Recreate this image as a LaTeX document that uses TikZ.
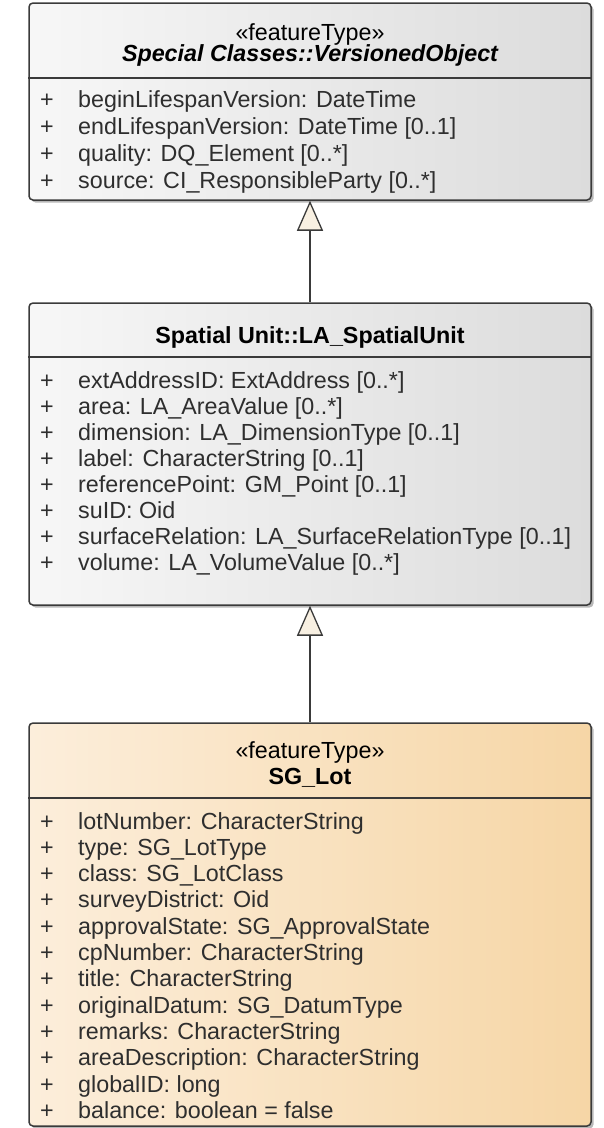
\documentclass[tikz,border=0pt]{standalone}
\usepackage{fontspec}
\setmainfont{Liberation Sans}
\usetikzlibrary{arrows.meta,positioning,shadows}
\definecolor{frame}   {HTML}{3A3A3A}
\definecolor{grayL}   {HTML}{F7F7F7}
\definecolor{grayR}   {HTML}{DCDCDC}
\definecolor{lotL}    {HTML}{FCEEDB}
\definecolor{lotR}    {HTML}{F6D6A6}
\definecolor{tipfill} {HTML}{F8F0E2}
\definecolor{attrtext}{HTML}{2E2E2E}
\newcommand{\umlfont}{\fontsize{23.3}{27}\selectfont}

\tikzset{
  classbox/.style={draw=frame,line width=1.5pt,rounded corners=4pt,
    minimum width=562pt,inner sep=0pt,
    drop shadow={shadow xshift=2.5pt,shadow yshift=-2.5pt,opacity=0.4,fill=black!70}},
  graybox/.style={classbox,left color=grayL,right color=grayR},
  lotbox/.style={classbox,left color=lotL,right color=lotR},
  stereo/.style={anchor=base,font=\umlfont,inner sep=0pt},
  cname/.style={anchor=base,font=\umlfont\bfseries,inner sep=0pt},
  plus/.style={anchor=base,font=\umlfont,text=attrtext,inner sep=0pt},
  attr/.style={anchor=base west,font=\umlfont,text=attrtext,inner sep=0pt},
  divider/.style={frame,line width=1.5pt},
  inherit/.style={frame,line width=1.3pt,
    -{Triangle[length=30pt,width=26pt,fill=tipfill]}},
}

\begin{document}
\begin{tikzpicture}[x=1pt,y=1pt]
    \useasboundingbox (0,0) rectangle (603,-1128);

    % class boxes
    \node[graybox,minimum height=197pt] (vobj) at (310,-101.5) {};
    \node[graybox,minimum height=302pt] (lasp) at (310,-454) {};
    \node[lotbox,minimum height=403pt] (sglot) at (310,-924.5) {};

    % compartment lines
    \draw[divider] (vobj.west |- 0,-78) -- (vobj.east |- 0,-78);
    \draw[divider] (lasp.west |- 0,-357) -- (lasp.east |- 0,-357);
    \draw[divider] (sglot.west |- 0,-798) -- (sglot.east |- 0,-798);

    % VersionedObject
    \node[stereo] (vobj-st) at (310,-40) {«featureType»};
    \node[cname,font=\umlfont\bfseries\itshape] (vobj-nm) at (310,-61) {Special Classes::VersionedObject};
    \foreach \a [count=\i from 0] in {
      {beginLifespanVersion: DateTime},
      {endLifespanVersion: DateTime [0..1]},
      {quality: DQ\_Element [0..*]},
      {source: CI\_ResponsibleParty [0..*]}} {
      \node[plus] (vobj-p\i) at (47,-107-27*\i) {+};
      \node[attr] (vobj-a\i) at (78,-107-27*\i) {\a};
    }

    % LA_SpatialUnit
    \node[cname] (lasp-nm) at (310,-343) {Spatial Unit::LA\_SpatialUnit};
    \foreach \a [count=\i from 0] in {
      {extAddressID: ExtAddress [0..*]},
      {area: LA\_AreaValue [0..*]},
      {dimension: LA\_DimensionType [0..1]},
      {label: CharacterString [0..1]},
      {referencePoint: GM\_Point [0..1]},
      {suID: Oid},
      {surfaceRelation: LA\_SurfaceRelationType [0..1]},
      {volume: LA\_VolumeValue [0..*]}} {
      \node[plus] (lasp-p\i) at (47,-388-26*\i) {+};
      \node[attr] (lasp-a\i) at (78,-388-26*\i) {\a};
    }

    % SG_Lot
    \node[stereo] (sglot-st) at (310,-758) {«featureType»};
    \node[cname] (sglot-nm) at (310,-784) {SG\_Lot};
    \foreach \a [count=\i from 0] in {
      {lotNumber: CharacterString},
      {type: SG\_LotType},
      {class: SG\_LotClass},
      {surveyDistrict: Oid},
      {approvalState: SG\_ApprovalState},
      {cpNumber: CharacterString},
      {title: CharacterString},
      {originalDatum: SG\_DatumType},
      {remarks: CharacterString},
      {areaDescription: CharacterString},
      {globalID: long},
      {balance: boolean = false}} {
      \node[plus] (sglot-p\i) at (47,-829-26.3*\i) {+};
      \node[attr] (sglot-a\i) at (78,-829-26.3*\i) {\a};
    }

    % generalisations
    \draw[inherit] (lasp.north) -- (vobj.south);
    \draw[inherit] (sglot.north) -- (lasp.south);
  \end{tikzpicture}
\end{document}
